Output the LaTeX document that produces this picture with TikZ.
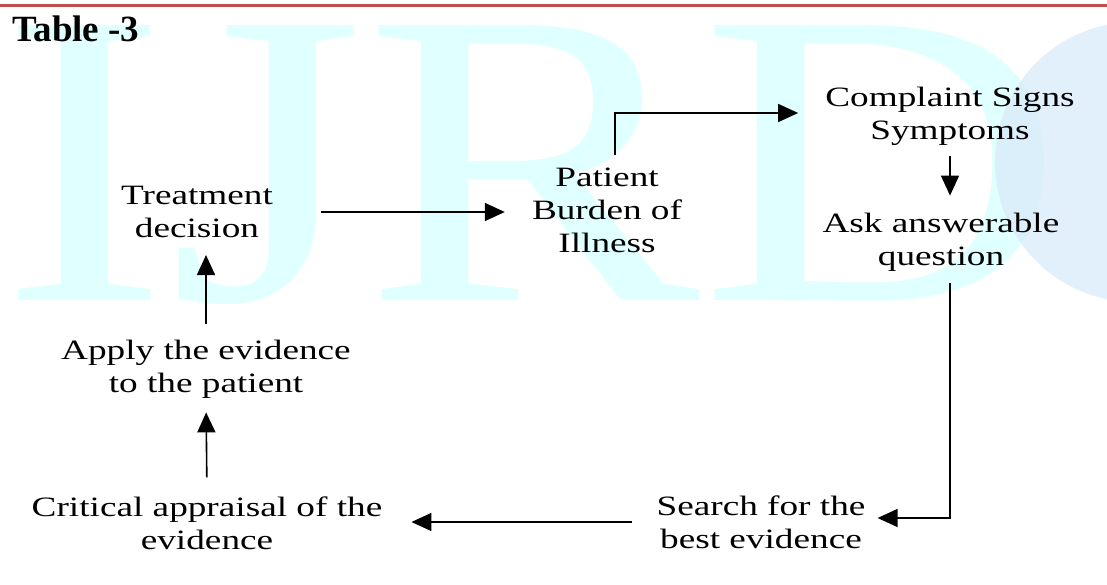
\documentclass[tikz,border=0pt]{standalone}
\usepackage{fontspec}
\usetikzlibrary{arrows.meta}
\setmainfont{Liberation Serif}
\newfontfamily\widefont{Liberation Serif}[FakeStretch=1.33]
\newfontfamily\markfont{Liberation Serif}[FakeStretch=1.2]
\definecolor{rulered}{RGB}{192,80,77}
\definecolor{markcyan}{RGB}{224,255,255}
\definecolor{globeblue}{RGB}{218,236,250}

\begin{document}
\begin{tikzpicture}[x=1pt, y=-1pt, >={Triangle[length=20pt,width=18pt]},
    stage/.style={align=center, inner sep=0, font=\widefont\fontsize{28}{33}\selectfont},
    flow/.style={->, line width=1.6pt}]
    \useasboundingbox (0,0) rectangle (1107,585);
    \begin{scope}
    \clip (0,0) rectangle (1107,585);
    \node (mark) at (0,300) [anchor=base west, inner sep=0, text=markcyan, font=\markfont\fontsize{420}{420}\selectfont] {IJRD};
    \fill [globeblue, opacity=0.8] (1135,162) circle (140);
    \end{scope}
    \draw [color=rulered, line width=3] (0,6) -- (1107,6);
    \node (title) at (12,42) [anchor=base west, inner sep=0, font=\fontsize{37}{40}\selectfont\bfseries] {Table -3};
    \node (treat) at (197,212) [stage] {Treatment\\decision};
    \node (patient) at (607,210) [stage] {Patient\\Burden of\\Illness};
    \node (complaint) at (950,116) [stage] {Complaint Signs\\Symptoms};
    \node (ask) at (941,242) [stage] {Ask answerable\\question};
    \node (apply) at (206,369) [stage] {Apply the evidence\\to the patient};
    \node (critical) at (207,523) [stage] {Critical appraisal of the\\evidence};
    \node (search) at (761,522) [stage] {Search for the\\best evidence};
    \draw [flow, shorten <=48pt, shorten >=27pt] (treat.east) -- (treat.east -| patient.west);
    \draw [flow, shorten >=27pt] ([xshift=8pt, yshift=12pt]patient.north) |- ([yshift=3pt]complaint.west);
    \draw [flow, shorten <=11pt, shorten >=17pt] (complaint.south) -- (complaint.south |- ask.north);
    \draw [flow, shorten >=12pt] ([xshift=9pt, yshift=-12pt]ask.south) |- ([yshift=4pt]search.east);
    \draw [flow, shorten <=24pt, shorten >=29pt] (search.west) -- (search.west -| critical.east);
    \draw [flow, shorten <=19pt, shorten >=14pt] (critical.north) -- (apply.south);
    \draw [flow, shorten <=16pt, shorten >=17pt] (apply.north) -- (apply.north |- treat.south);
\end{tikzpicture}
\end{document}
